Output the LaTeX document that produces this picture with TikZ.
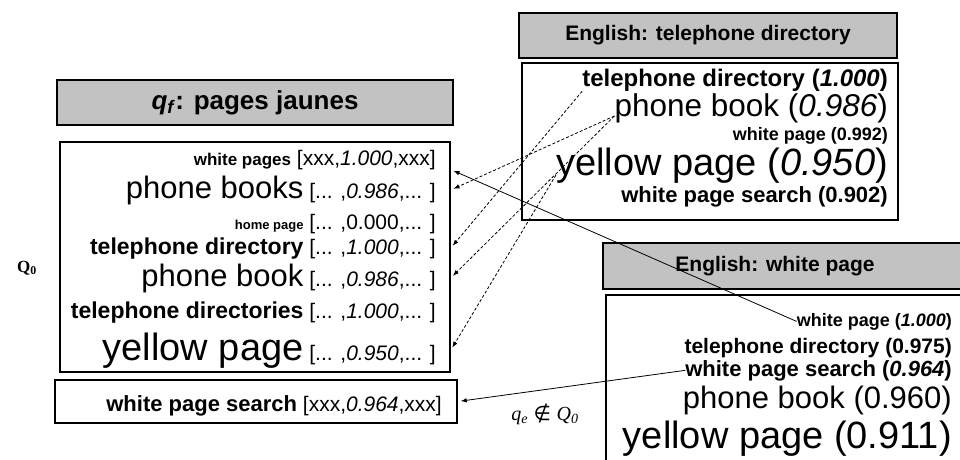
\documentclass[tikz,border=0pt]{standalone}
\usepackage{fontspec}
\setmainfont{Liberation Sans}
\newfontfamily\serif{Liberation Serif}
\newfontfamily\zeichen{DejaVu Sans}
\usetikzlibrary{arrows.meta}
\newcommand{\fsz}[1]{\fontsize{#1}{#1}\selectfont}
\definecolor{kopfgrau}{gray}{0.76}

\begin{document}
\begin{tikzpicture}[x=1pt, y=-1pt,
    kasten/.style={draw, line width=1.5pt, inner sep=0pt},
    kopf/.style={kasten, fill=kopfgrau},
    zeile/.style={anchor=base east, inner sep=0pt},
    verweis/.style={-{Latex[length=6pt,width=4.5pt]}, line width=0.8pt, shorten >=3pt},
    gestrichelt/.style={verweis, dash pattern=on 3pt off 2pt}]
    \useasboundingbox (0,0) rectangle (960,459);
        % Kopfzeilen
        \node[kopf, minimum width=396pt, minimum height=45pt] (qkopf) at (255,102.5)
            {\fsz{26}\bfseries\textit{q}\textsubscript{\textit{f}}: pages jaunes};
        \node[kopf, minimum width=378pt, minimum height=45pt] (tkopf) at (708,35.5)
            {\fsz{21}\bfseries English: telephone directory};
        \node[kopf, minimum width=362pt, minimum height=46pt] (wkopf) at (784,266) {};
        \node[inner sep=0pt] (wtitel) at (775,266) {\fsz{21}\bfseries English: white page};
        % Kaesten
        \node[kasten, minimum width=390pt, minimum height=230pt] (lbox) at (255,257) {};
        \node[kasten, minimum width=402pt, minimum height=43pt] (ubox) at (256,401.5) {};
        \node[kasten, minimum width=376pt, minimum height=157pt] (tbox) at (710,141.5) {};
        \node[kasten, minimum width=359pt, minimum height=170pt] (wbox) at (785.5,380) {};
        \node (qnull) at (27,268) {\serif\fsz{17}\bfseries Q\textsubscript{0}};
        % linke Liste
        \node[zeile] (l1) at (436,165) {{\fsz{17}\bfseries white pages}{\fsz{21} [xxx,\textit{1.000},xxx]}};
        \node[zeile] (l2) at (436,198) {{\fsz{31}phone books}{\fsz{21} [... ,\textit{0.986},... ]}};
        \node[zeile] (l3) at (436,229) {{\fsz{13}\bfseries home page}{\fsz{21} [... ,0.000,... ]}};
        \node[zeile] (l4) at (436,254) {{\fsz{23}\bfseries telephone directory}{\fsz{21} [... ,\textit{1.000},... ]}};
        \node[zeile] (l5) at (436,286) {{\fsz{31}phone book}{\fsz{21} [... ,\textit{0.986},... ]}};
        \node[zeile] (l6) at (436,318) {{\fsz{23}\bfseries telephone directories}{\fsz{21} [... ,\textit{1.000},... ]}};
        \node[zeile] (l7) at (436,360) {{\fsz{38}yellow page}{\fsz{21} [... ,\textit{0.950},... ]}};
        \node[zeile] (u1) at (442,411) {{\fsz{22}\bfseries white page search}{\fsz{21} [xxx,\textit{0.964},xxx]}};
        % telephone directory
        \node[zeile] (a1) at (888,86) {\fsz{24}\bfseries telephone directory (\textit{1.000})};
        \node[zeile] (a2) at (888,116) {\fsz{31.5}phone book (\textit{0.986})};
        \node[zeile] (a3) at (888,140) {\fsz{18}\bfseries white page (0.992)};
        \node[zeile] (a4) at (888,175) {\fsz{38}yellow page (\textit{0.950})};
        \node[zeile] (a5) at (888,202) {\fsz{22}\bfseries white page search (0.902)};
        % white page
        \node[zeile] (b1) at (952,326) {\fsz{18}\bfseries white page (\textit{1.000})};
        \node[zeile] (b2) at (952,353) {\fsz{21}\bfseries telephone directory (0.975)};
        \node[zeile] (b3) at (952,376) {\fsz{22}\bfseries white page search (\textit{0.964})};
        \node[zeile] (b4) at (952,408) {\fsz{31}phone book (0.960)};
        \node[zeile] (b5) at (952,448) {\fsz{38}yellow page (0.911)};
        % Pfeile
        \draw[gestrichelt] (a1.south west) -- (lbox.east |- l4.east);
        \draw[gestrichelt] (a2.base west) -- (lbox.east |- l2.east);
        \draw[gestrichelt] (a2.base west) -- (lbox.east |- l5.east);
        \draw[gestrichelt] (a4.base west) -- (lbox.east |- l7.east);
        \draw[verweis] (b1.west) -- (lbox.east |- l1.south);
        \draw[verweis] (b3.west) -- (ubox.east);
        \node[inner sep=0pt] (qlabel) at (545,414)
            {\fsz{20}{\serif\itshape q\textsubscript{e}} {\zeichen ∉} {\serif\itshape Q\textsubscript{0}}};
\end{tikzpicture}
\end{document}
